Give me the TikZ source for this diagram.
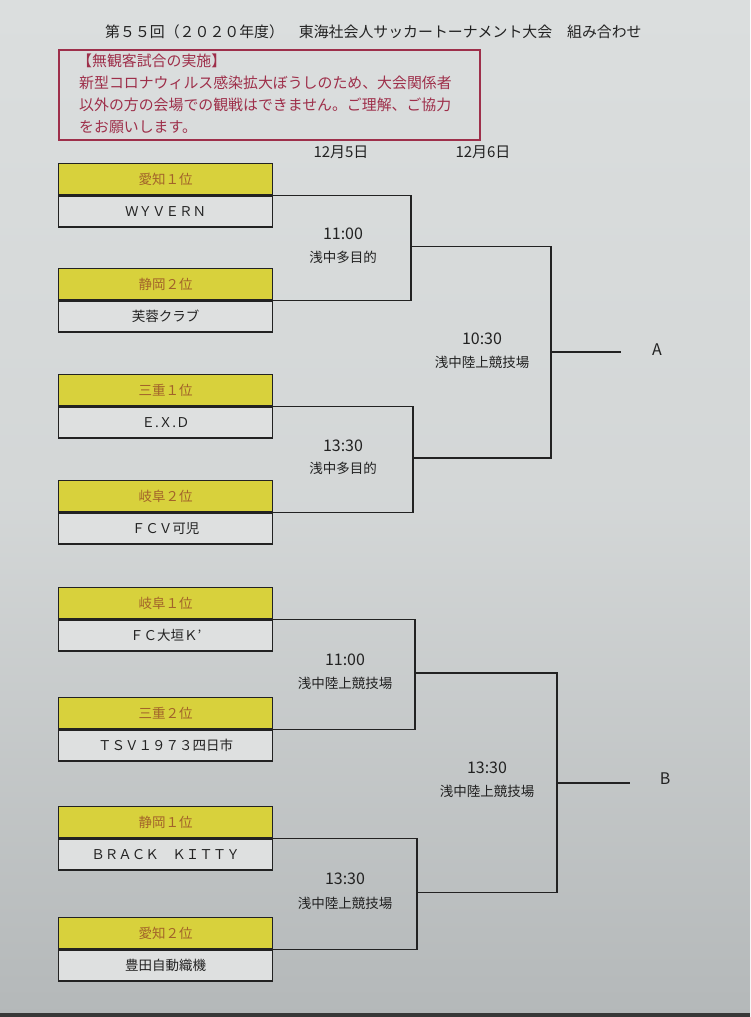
\documentclass[tikz,border=0pt]{standalone}
\usepackage{fontspec}
\setmainfont{Noto Sans CJK JP}
\usetikzlibrary{calc}
\definecolor{bgtop}{HTML}{DBDEDE}
\definecolor{bgbot}{HTML}{B4B8B9}
\definecolor{hdrfill}{HTML}{D8D13C}
\definecolor{hdrtext}{HTML}{A2632A}
\definecolor{namefill}{HTML}{DEE0E0}
\definecolor{maroon}{HTML}{9E2F4A}
\definecolor{ink}{HTML}{222222}
\tikzset{
  hdr/.style={draw=ink, line width=1.4pt, fill=hdrfill, minimum width=214pt, minimum height=31pt, inner sep=0pt, text=hdrtext, font=\fontsize{13.5pt}{14pt}\selectfont},
  nm/.style={draw=ink, line width=1.4pt, fill=namefill, minimum width=214pt, minimum height=31pt, inner sep=0pt, text=ink, font=\fontsize{13.5pt}{14pt}\selectfont},
  br/.style={draw=ink, line width=1.6pt},
  lbl/.style={text=ink, inner sep=0pt, font=\fontsize{13.5pt}{14pt}\selectfont},
  tm/.style={text=ink, inner sep=0pt, font=\fontsize{16pt}{17pt}\selectfont},
  note/.style={text=maroon, inner sep=0pt, anchor=west, font=\fontsize{14.9pt}{16pt}\selectfont}
}
\newcommand\teambox[4]{%
  \node[hdr, anchor=north west] (h#1) at (58,#2) {#3};
  \node[nm, anchor=north] (n#1) at (h#1.south) {#4};}
\begin{document}
\begin{tikzpicture}[x=1pt,y=-1pt]
\useasboundingbox (0,0) rectangle (750,1017);
\shade[top color=bgtop, bottom color=bgbot, middle color=bgtop!80!bgbot] (0,0) rectangle (750,1017);
\fill[ink!90] (0,1013) rectangle (750,1017);
% title
\node[text=ink, inner sep=0pt, anchor=west, font=\fontsize{14.9pt}{16pt}\selectfont] (title) at (105,32) {第５５回（２０２０年度）　東海社会人サッカートーナメント大会　組み合わせ};
% notice box
\node[draw=maroon, line width=1.8pt, anchor=north west, minimum width=421pt, minimum height=90pt, inner sep=0pt] (notice) at (58,49) {};
\node[note] (n1) at (77,61) {【無観客試合の実施】};
\node[note] (n2) at (79,83) {新型コロナウィルス感染拡大ぼうしのため、大会関係者};
\node[note] (n3) at (79,105) {以外の方の会場での観戦はできません。ご理解、ご協力};
\node[note] (n4) at (79,127) {をお願いします。};
% dates
\node[lbl, font=\fontsize{15pt}{16pt}\selectfont] (d1) at (341,152) {12月5日};
\node[lbl, font=\fontsize{15pt}{16pt}\selectfont] (d2) at (483,152) {12月6日};
% teams
\teambox{1}{163}{愛知１位}{ＷＹＶＥＲＮ}
\teambox{2}{268}{静岡２位}{芙蓉クラブ}
\teambox{3}{374}{三重１位}{Ｅ.Ｘ.Ｄ}
\teambox{4}{480}{岐阜２位}{ＦＣＶ可児}
\teambox{5}{587}{岐阜１位}{ＦＣ大垣Ｋ’}
\teambox{6}{697}{三重２位}{ＴＳＶ１９７３四日市}
\teambox{7}{806}{静岡１位}{ＢＲＡＣＫ　ＫＩＴＴＹ}
\teambox{8}{917}{愛知２位}{豊田自動織機}
% junctions
\coordinate (m1) at (411,246.5);
\coordinate (m2) at (413,458);
\coordinate (m3) at (415,673);
\coordinate (m4) at (417,892.5);
\coordinate (f1) at (551,352);
\coordinate (f2) at (557,782.75);
\coordinate (tA) at (621,352);
\coordinate (tB) at (630,782.75);
% brackets
\draw[br] (h1.south east) -| (m1) |- (h2.south east);
\draw[br] (h3.south east) -| (m2) |- (h4.south east);
\draw[br] (h5.south east) -| (m3) |- (h6.south east);
\draw[br] (h7.south east) -| (m4) |- (h8.south east);
\draw[br] (m1) -| (f1) |- (m2);
\draw[br] (m3) -| (f2) |- (m4);
\draw[br] (f1) -- (tA);
\draw[br] (f2) -- (tB);
\node[tm] (A) at (657,350) {A};
\node[tm] (B) at (665,779) {B};
% match labels
\node[tm] (t1) at (343,234) {11:00};
\node[lbl] (v1) at (343,257) {浅中多目的};
\node[tm] (t2) at (343,446) {13:30};
\node[lbl] (v2) at (343,468) {浅中多目的};
\node[tm] (t3) at (482,339) {10:30};
\node[lbl] (v3) at (482,362) {浅中陸上競技場};
\node[tm] (t4) at (345,660) {11:00};
\node[lbl] (v4) at (345,683) {浅中陸上競技場};
\node[tm] (t5) at (345,879) {13:30};
\node[lbl] (v5) at (345,903) {浅中陸上競技場};
\node[tm] (t6) at (487,768) {13:30};
\node[lbl] (v6) at (487,791) {浅中陸上競技場};
\end{tikzpicture}
\end{document}
